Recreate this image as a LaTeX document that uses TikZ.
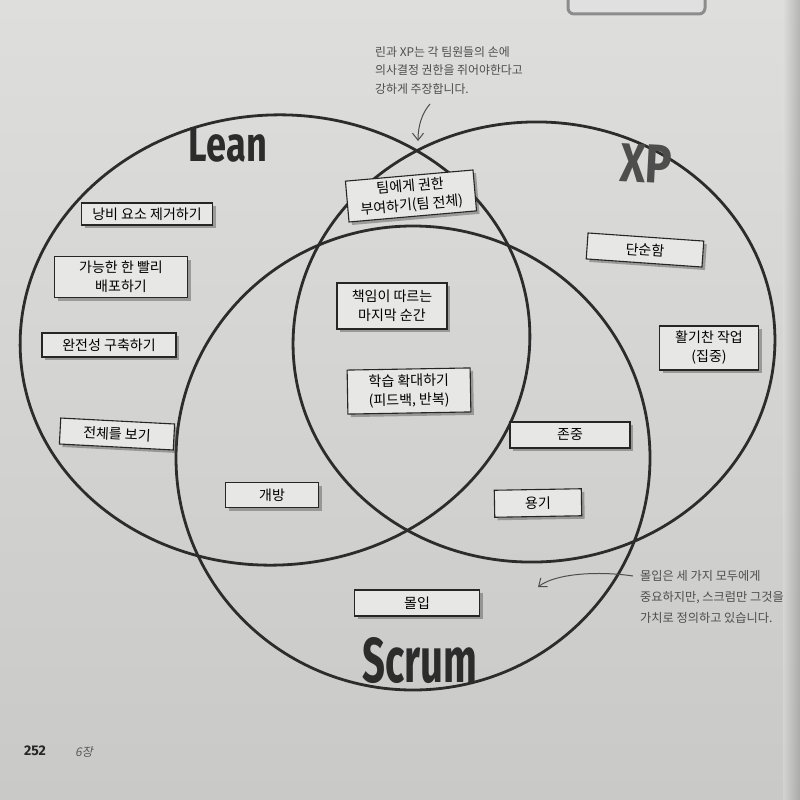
\documentclass[tikz,border=0pt]{standalone}
\usepackage{fontspec}
\usepackage{graphicx}
\setmainfont{Noto Sans CJK KR}
\newfontfamily\titlefont{Fira Sans}
\newfontfamily\chapfont{Noto Sans CJK KR}[FakeSlant=0.2]
\usetikzlibrary{arrows.meta,shadows}
\definecolor{paper}{HTML}{DEDEDC}
\definecolor{paperlow}{HTML}{C9C9C7}
\definecolor{cardfill}{HTML}{E7E7E5}
\definecolor{inkline}{HTML}{2C2C2C}
\definecolor{pencil}{HTML}{4E4E4E}

\begin{document}
\begin{tikzpicture}[x=1pt, y=-1pt,
    ring/.style={draw=inkline, line width=2.8pt},
    card/.style={draw=black!85, line width=1.1pt, fill=cardfill, align=center,
                 inner sep=0pt, font=\fontsize{14}{19}\selectfont,
                 drop shadow={shadow xshift=3pt, shadow yshift=-3pt,
                              opacity=0.4, fill=black!75}},
    title/.style={inner sep=0pt, text=inkline, font=\titlefont\bfseries},
    note/.style={align=left, text=pencil, inner sep=0pt},
    scribble/.style={draw=pencil, line width=1pt,
                     -{Straight Barb[length=7pt, width=11pt]}}]
  \useasboundingbox (0,0) rectangle (800,800);
  % the photographed page, a shadow on its right edge and the box cut off at the top
  \shade[top color=paper, bottom color=paperlow] (0,0) rectangle (800,800);
  \shade[left color=paper, right color=black!45, opacity=0.5] (783,0) rectangle (800,800);
  \begin{scope}
    \clip (0,0) rectangle (800,800);
    \draw[black!45, line width=3pt, fill=black!12, rounded corners=6pt]
      (568,-10) rectangle (705,14);
  \end{scope}
  % the three sets
  \draw[ring, rotate around={4:(275,340)}] (275,340) ellipse [x radius=255, y radius=225];
  \draw[ring, rotate around={3:(534,342)}] (534,342) ellipse [x radius=241, y radius=220];
  \draw[ring] (413,458) ellipse [x radius=237, y radius=232];
  \node[title] (lean) at (228,145) {\resizebox{78pt}{34pt}{Lean}};
  \node[title, text=pencil, rotate=-3] (xp) at (646,164) {\resizebox{52pt}{38pt}{XP}};
  \node[title] (scrum) at (420,661) {\resizebox{115pt}{45pt}{Scrum}};
  % the practices, one card each
  \foreach \cx/\cy/\w/\h/\a/\n/\txt in {%
      147/214/131/22/0/waste/{낭비 요소 제거하기},
      121/277/133/41/0/deliver/{가능한 한 빨리\\배포하기},
      109/345/134/24/0/integrity/{완전성 구축하기},
      117/434/114/26/-3/whole/{전체를 보기},
      272/495/93/25/0/open/{개방},
      411/196/128/41/5/empower/{팀에게 권한\\부여하기(팀 전체)},
      392/306/110/46/0/decide/{책임이 따르는\\마지막 순간},
      409/391/123/44/1/amplify/{학습 확대하기\\(피드백, 반복)},
      645/250/116/26/-4/simple/{단순함},
      709/348/99/44/0/energize/{활기찬 작업\\(집중)},
      570/435/120/26/0/respect/{존중},
      538/503/87/27/1/courage/{용기},
      417/603/125/26/0/focus/{몰입}}{
    \node[card, minimum width=\w pt, minimum height=\h pt, rotate=\a]
      (\n) at (\cx,\cy) {\txt};}
  % the two hand-written notes
  \node[note, anchor=north west, font=\fontsize{11.9}{18.5}\selectfont]
    (powernote) at (375,46) {린과 XP는 각 팀원들의 손에\\의사결정 권한을 쥐어야한다고\\강하게 주장합니다.};
  \coordinate (powertail) at (430,104);
  \coordinate (powertip) at (418,141);
  \draw[scribble] (powertail) .. controls (422,113) and (418,126) .. (powertip);
  \node[note, anchor=north west, font=\fontsize{12.2}{21}\selectfont]
    (focusnote) at (640,570) {몰입은 세 가지 모두에게\\중요하지만, 스크럼만 그것을\\가치로 정의하고 있습니다.};
  \coordinate (focustail) at (633,576);
  \coordinate (focustip) at (538,587);
  \draw[scribble] (focustail) .. controls (600,571) and (556,573) .. (focustip);
  % page footer
  \node[font=\titlefont\bfseries\fontsize{14}{14}\selectfont, text=black!85]
    (pagenum) at (35,751) {252};
  \node[font=\chapfont\fontsize{12}{12}\selectfont, text=black!65]
    (chapter) at (84,752) {6장};
\end{tikzpicture}
\end{document}
